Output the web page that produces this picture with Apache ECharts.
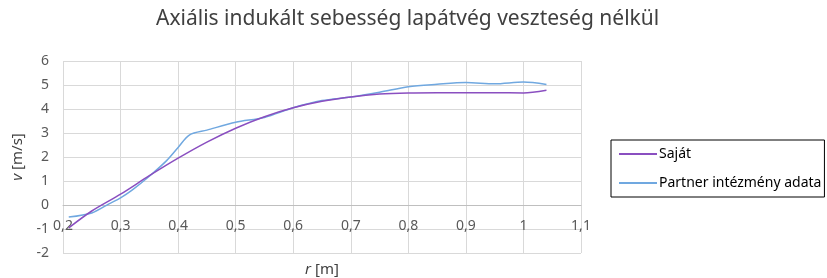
<!DOCTYPE html>
<html>
<head>
<meta charset="utf-8">
<script src="https://cdn.jsdelivr.net/npm/echarts@6/dist/echarts.min.js"></script>
<style>html,body{margin:0;padding:0;background:#fff;}#c{width:827px;height:278px;}</style>
</head>
<body>
<div id="c"></div>
<script>
const titleText = "Axiális indukált sebesség lapátvég veszteség nélkül";
const seriesNames = ["Saját", "Partner intézmény adata"];
const sajatR = [0.21, 0.25, 0.3, 0.35, 0.4, 0.45, 0.5, 0.55, 0.6, 0.65, 0.7, 0.75, 0.8, 0.85, 0.9, 0.95, 1.0, 1.04];
const sajatV = [-0.95, -0.25, 0.45, 1.22, 1.95, 2.62, 3.2, 3.68, 4.05, 4.32, 4.5, 4.62, 4.67, 4.68, 4.68, 4.68, 4.67, 4.78];
const partnerR = [0.21, 0.25, 0.28, 0.3, 0.32, 0.35, 0.38, 0.4, 0.42, 0.45, 0.5, 0.55, 0.6, 0.65, 0.7, 0.75, 0.8, 0.85, 0.9, 0.95, 1.0, 1.04];
const partnerV = [-0.5, -0.33, 0.05, 0.3, 0.62, 1.2, 1.85, 2.4, 2.92, 3.12, 3.45, 3.65, 4.05, 4.35, 4.5, 4.7, 4.93, 5.03, 5.1, 5.05, 5.12, 5.02];

const font = "Noto Sans";
const italic = { fontStyle: 'italic', fontFamily: font, fontSize: 15, color: '#404040' };
const chart = echarts.init(document.getElementById('c'));
chart.setOption({
  animation: false,
  textStyle: { fontFamily: font },
  title: {
    text: titleText, left: 151, top: 4,
    textStyle: { fontFamily: font, fontSize: 21, fontWeight: 'normal', color: '#404040' }
  },
  legend: {
    orient: 'vertical', left: 611, top: 140,
    borderColor: '#000', borderWidth: 1,
    padding: [7, 3, 7, 8], itemGap: 15,
    itemWidth: 38, itemHeight: 16,
    icon: 'path://M0,7 L38,7 L38,9 L0,9 Z',
    textStyle: { fontFamily: font, fontSize: 14, color: '#000', padding: [0, 0, 0, -3] },
    data: seriesNames
  },
  grid: { left: 63, right: 246, top: 61, bottom: 25, outerBoundsMode: 'none', containLabel: false },
  xAxis: {
    type: 'value', min: 0.2, max: 1.1, interval: 0.1,
    offset: -48,
    name: '{i|r} [m]', nameLocation: 'middle', nameGap: 57,
    nameTextStyle: { fontFamily: font, fontSize: 15, color: '#404040', rich: { i: italic } },
    axisLine: { onZero: false, lineStyle: { color: '#bfbfbf' } },
    axisTick: { show: false },
    axisLabel: {
      margin: 14, fontFamily: font, fontSize: 14, color: '#595959',
      formatter: v => String(Math.round(v * 10) / 10).replace('.', ',')
    },
    splitLine: { show: true, lineStyle: { color: '#d9d9d9' } }
  },
  yAxis: {
    type: 'value', min: -2, max: 6, interval: 1,
    name: '{i|v} [m/s]', nameLocation: 'middle', nameGap: 31, nameRotate: 90,
    nameTextStyle: { fontFamily: font, fontSize: 15, color: '#404040', rich: { i: italic } },
    axisLine: { show: false },
    axisTick: { show: false },
    axisLabel: { margin: 14, fontFamily: font, fontSize: 14, color: '#595959' },
    splitLine: { show: true, lineStyle: { color: '#d9d9d9' } }
  },
  series: [
    {
      name: seriesNames[0], type: 'line', smooth: 0.3, showSymbol: false,
      data: sajatR.map((r, i) => [r, sajatV[i]]),
      lineStyle: { color: '#8a4fc0', width: 1.5 }, itemStyle: { color: '#8a4fc0' }, z: 3
    },
    {
      name: seriesNames[1], type: 'line', smooth: 0.3, showSymbol: false,
      data: partnerR.map((r, i) => [r, partnerV[i]]),
      lineStyle: { color: '#70a8e0', width: 1.5 }, itemStyle: { color: '#70a8e0' }, z: 2
    }
  ]
});
</script>
</body>
</html>
